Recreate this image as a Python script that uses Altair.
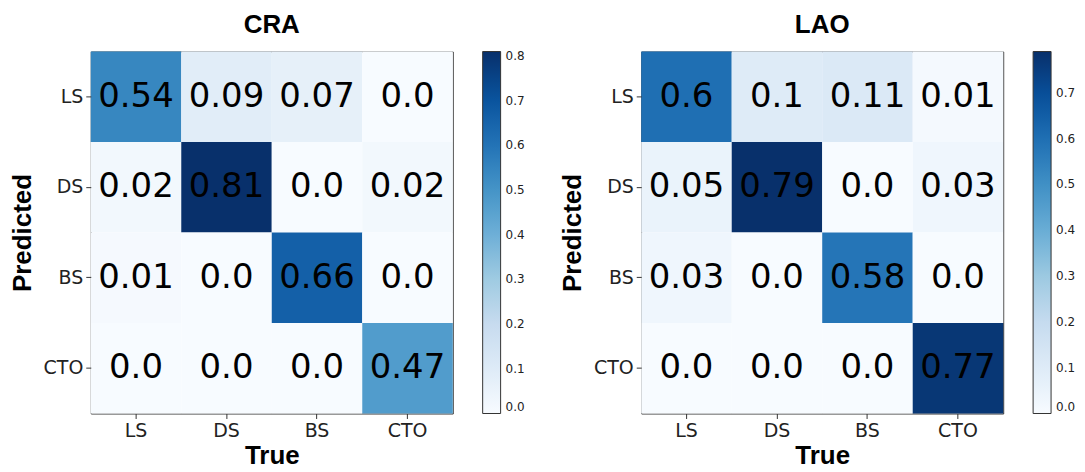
import altair as alt
import pandas as pd

classes = ["LS", "DS", "BS", "CTO"]
titles = ["CRA", "LAO"]
# rows = Predicted, columns = True
cra_values = [
    [0.54, 0.09, 0.07, 0.0],
    [0.02, 0.81, 0.0, 0.02],
    [0.01, 0.0, 0.66, 0.0],
    [0.0, 0.0, 0.0, 0.47],
]
lao_values = [
    [0.6, 0.1, 0.11, 0.01],
    [0.05, 0.79, 0.0, 0.03],
    [0.03, 0.0, 0.58, 0.0],
    [0.0, 0.0, 0.0, 0.77],
]
cra_ticks = [0.0, 0.1, 0.2, 0.3, 0.4, 0.5, 0.6, 0.7, 0.8]
lao_ticks = [0.0, 0.1, 0.2, 0.3, 0.4, 0.5, 0.6, 0.7]

blues = ["#f7fbff", "#deebf7", "#c6dbef", "#9ecae1", "#6baed6",
         "#4292c6", "#2171b5", "#08519c", "#08306b"]

TICK_FONT = "DejaVu Sans"
BOLD_FONT = "Liberation Sans"
SIZE = 363


def panel(title, values, ticks):
    rows = []
    for i, pred in enumerate(classes):
        for j, true in enumerate(classes):
            v = values[i][j]
            rows.append({"Predicted": pred, "True": true, "value": v, "label": str(v)})
    df = pd.DataFrame(rows)
    vmax = max(max(r) for r in values)
    vmin = min(min(r) for r in values)
    n = len(blues) - 1
    domain = [vmin + (vmax - vmin) * k / n for k in range(n + 1)]

    x = alt.X("True:N", sort=classes,
              scale=alt.Scale(paddingInner=0, paddingOuter=0),
              axis=alt.Axis(title="True", labelAngle=0))
    y = alt.Y("Predicted:N", sort=classes,
              scale=alt.Scale(paddingInner=0, paddingOuter=0),
              axis=alt.Axis(title="Predicted"))
    base = alt.Chart(df)
    heat = base.mark_rect().encode(
        x=x, y=y,
        color=alt.Color("value:Q",
                        scale=alt.Scale(domain=domain, range=blues,
                                        interpolate="rgb", nice=False, zero=False),
                        legend=alt.Legend(title=None, values=ticks, format=".1f",
                                          gradientLength=SIZE, gradientThickness=18,
                                          gradientStrokeColor="#333",
                                          gradientStrokeWidth=1,
                                          labelFont=TICK_FONT, labelFontSize=12,
                                          labelColor="#222", labelBaseline="middle",
                                          labelOverlap=False, labelOffset=5,
                                          offset=30)),
    )
    text = base.mark_text(font=TICK_FONT, fontSize=34, color="black").encode(
        x=x, y=y, text="label:N"
    )
    return (heat + text).properties(
        width=SIZE, height=SIZE,
        title=alt.TitleParams(title, font=BOLD_FONT, fontSize=26, fontWeight="bold",
                              color="black", anchor="middle", frame="group", offset=14),
    )


chart = alt.hconcat(
    panel(titles[0], cra_values, cra_ticks),
    panel(titles[1], lao_values, lao_ticks),
    spacing=32,
).resolve_scale(color="independent").configure_axis(
    labelFont=TICK_FONT, labelFontSize=19, labelColor="#222",
    titleFont=BOLD_FONT, titleFontSize=26, titleFontWeight="bold", titleColor="black",
    tickSize=5, tickColor="#333", labelPadding=3, domain=False, grid=False,
).configure_axisY(titlePadding=8).configure_axisX(titlePadding=2).configure_view(
    stroke="#333", strokeWidth=1
).properties(
    padding={"left": 0, "top": 2, "right": 0, "bottom": 0}
)

chart.save("out.html", embed_options={"renderer": "svg", "actions": False})
